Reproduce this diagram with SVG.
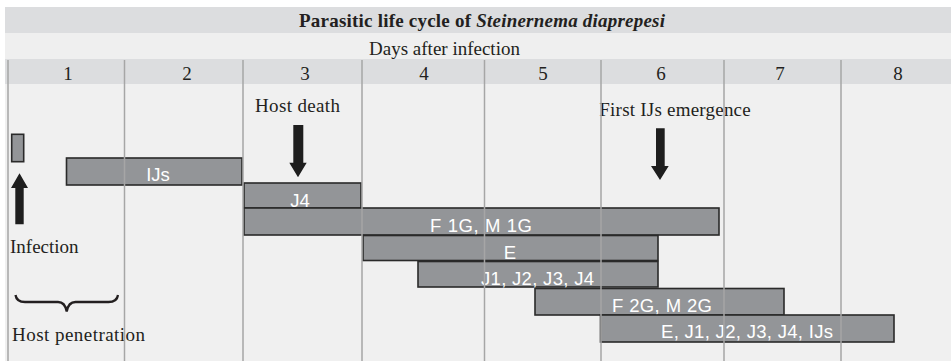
<svg xmlns="http://www.w3.org/2000/svg" width="951" height="361" viewBox="0 0 951 361">
<style>
.serif{font-family:"Liberation Serif","Times New Roman",serif;fill:#231f20}
.lbl{font-size:19px}
.bar{fill:#939598;stroke:#2a2a2a;stroke-width:1.6}
.bt{font-family:"Liberation Sans",Arial,sans-serif;font-size:18.5px;fill:#ffffff;text-anchor:middle}
.grid{stroke:#a6a6a6;stroke-width:1.5}
.arr{fill:#1e1e1e}
</style>
<rect x="0" y="0" width="951" height="361" fill="#ffffff"/>
<rect x="5" y="7" width="946" height="354" fill="#f0f0f0"/>
<g id="title">
<rect x="5" y="7" width="946" height="26" fill="#dcdddf"/>
<text class="serif" x="482" y="27" font-size="19" font-weight="bold" text-anchor="middle" textLength="366" lengthAdjust="spacing">Parasitic life cycle of <tspan font-style="italic">Steinernema diaprepesi</tspan></text>
</g>
<g id="axis-title">
<rect x="5" y="33" width="946" height="26" fill="#efefef"/>
<text class="serif lbl" x="444.5" y="54.5" text-anchor="middle">Days after infection</text>
</g>
<g id="days">
<rect x="5" y="59" width="946" height="25" fill="#dcdddf"/>
<g class="serif lbl" text-anchor="middle">
<text x="68" y="80">1</text>
<text x="187" y="80">2</text>
<text x="305" y="80">3</text>
<text x="424" y="80">4</text>
<text x="543" y="80">5</text>
<text x="661" y="80">6</text>
<text x="780" y="80">7</text>
<text x="898" y="80">8</text>
</g>
</g>
<g id="infection-bar"><rect class="bar" x="11.7" y="134.3" width="12" height="27.4"/></g>
<g id="bar-ijs"><rect class="bar" x="66.5" y="158" width="175.5" height="27"/><text class="bt" x="158" y="180.7">IJs</text></g>
<g id="bar-j4"><rect class="bar" x="244" y="183" width="117" height="25"/><text class="bt" x="300" y="206.5">J4</text></g>
<g id="bar-f1g"><rect class="bar" x="244" y="208" width="475" height="27"/><text class="bt" x="481" y="231.7" textLength="102" lengthAdjust="spacing">F 1G, M 1G</text></g>
<g id="bar-e"><rect class="bar" x="363" y="235.5" width="295" height="25"/><text class="bt" x="510" y="259.3">E</text></g>
<g id="bar-j1"><rect class="bar" x="418" y="261.5" width="240" height="25.5"/><text class="bt" x="537.5" y="285" textLength="113" lengthAdjust="spacing">J1, J2, J3, J4</text></g>
<g id="bar-f2g"><rect class="bar" x="535" y="288.5" width="249" height="26.5"/><text class="bt" x="662" y="311.7" textLength="100" lengthAdjust="spacing">F 2G, M 2G</text></g>
<g id="bar-all"><rect class="bar" x="600.5" y="315" width="293.5" height="27"/><text class="bt" x="747" y="338.3" textLength="172" lengthAdjust="spacing">E, J1, J2, J3, J4, IJs</text></g>
<g id="connectors">
<polygon class="arr" points="19.5,173.3 28,188 23.7,188 23.7,224.3 15.3,224.3 15.3,188 11,188"/>
<polygon class="arr" points="293.3,125 303.3,125 303.3,162.7 306.7,162.7 298,177.3 289.3,162.7 293.3,162.7"/>
<polygon class="arr" points="656,128.3 664.7,128.3 664.7,166 668.7,166 660,180 651,166 656,166"/>
<path d="M15.5,295 Q16.5,302 25,302 L58,302 Q65,302 66.7,311.5 Q68.4,302 75.5,302 L108.5,302 Q117,302 118,295" fill="none" stroke="#231f20" stroke-width="2.3"/>
</g>
<g id="labels" class="serif lbl">
<text x="255" y="111.7" textLength="85" lengthAdjust="spacing">Host death</text>
<text x="599.3" y="116" textLength="151.4" lengthAdjust="spacing">First IJs emergence</text>
<text x="10" y="253.3">Infection</text>
<text x="12" y="340.5" textLength="133" lengthAdjust="spacing">Host penetration</text>
</g>
<g id="gridlines" class="grid">
<line x1="8" y1="60" x2="8" y2="361"/>
<line x1="124.5" y1="60" x2="124.5" y2="361"/>
<line x1="243" y1="60" x2="243" y2="361"/>
<line x1="362" y1="60" x2="362" y2="361"/>
<line x1="484.5" y1="60" x2="484.5" y2="361"/>
<line x1="601" y1="60" x2="601" y2="361"/>
<line x1="724" y1="60" x2="724" y2="361"/>
<line x1="841" y1="60" x2="841" y2="361"/>
</g>
</svg>
